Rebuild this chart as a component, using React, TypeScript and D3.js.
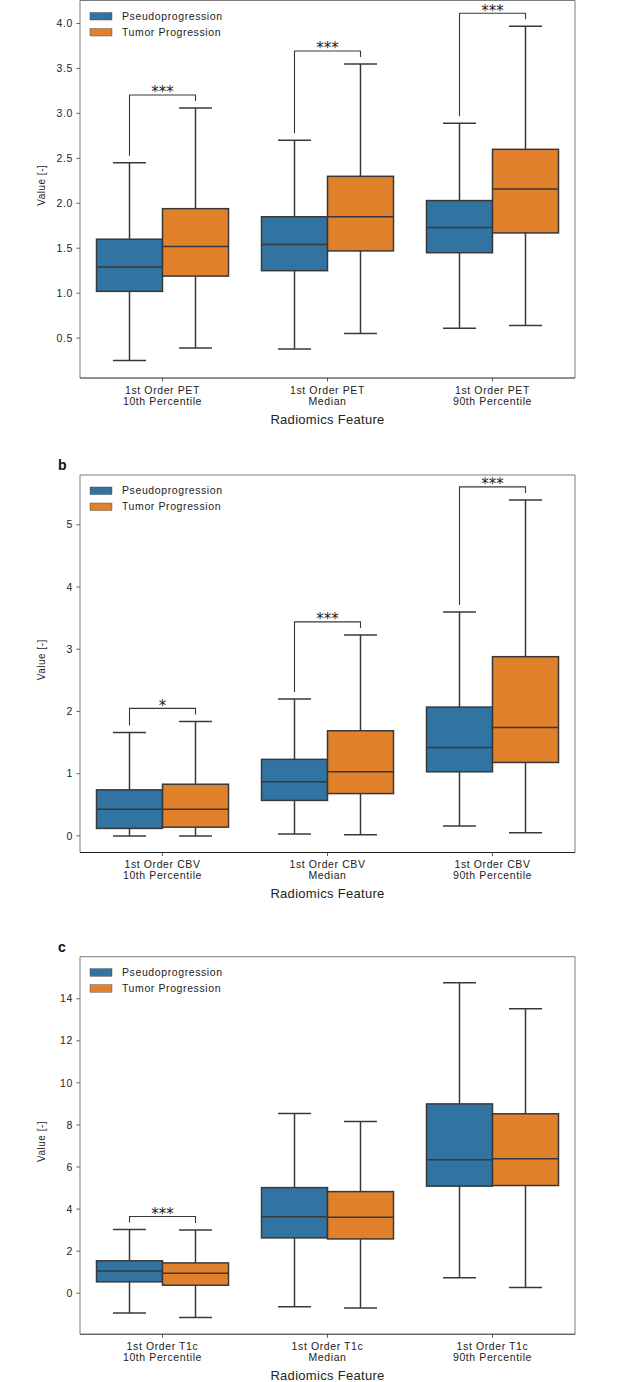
import { scaleBand, scaleLinear, range as d3Range, format } from 'd3'

// three stacked box-plot panels (PET / CBV / T1c radiomics), seaborn-like look

const GROUPS = ['Pseudoprogression', 'Tumor Progression']
const COLORS = ['#3274a1', '#e1812c']

// box stats: [lower whisker, q1, median, q3, upper whisker]
const petCats = ['1st Order PET\n10th Percentile', '1st Order PET\nMedian', '1st Order PET\n90th Percentile']
const petPseudo = [
  [0.25, 1.02, 1.29, 1.6, 2.45],
  [0.38, 1.25, 1.54, 1.85, 2.7],
  [0.61, 1.45, 1.73, 2.03, 2.89],
]
const petTumor = [
  [0.39, 1.19, 1.52, 1.94, 3.06],
  [0.55, 1.47, 1.85, 2.3, 3.55],
  [0.64, 1.67, 2.16, 2.6, 3.97],
]
const petSig = ['***', '***', '***']
const petTicks = d3Range(0.5, 4.01, 0.5)

const cbvCats = ['1st Order CBV\n10th Percentile', '1st Order CBV\nMedian', '1st Order CBV\n90th Percentile']
const cbvPseudo = [
  [0.0, 0.12, 0.43, 0.74, 1.66],
  [0.03, 0.57, 0.87, 1.23, 2.2],
  [0.16, 1.03, 1.42, 2.07, 3.6],
]
const cbvTumor = [
  [0.0, 0.14, 0.43, 0.83, 1.84],
  [0.02, 0.68, 1.03, 1.69, 3.23],
  [0.05, 1.18, 1.74, 2.88, 5.4],
]
const cbvSig = ['*', '***', '***']
const cbvTicks = [0, 1, 2, 3, 4, 5]

const t1cCats = ['1st Order T1c\n10th Percentile', '1st Order T1c\nMedian', '1st Order T1c\n90th Percentile']
const t1cPseudo = [
  [-0.94, 0.54, 1.06, 1.54, 3.03],
  [-0.65, 2.63, 3.63, 5.02, 8.54],
  [0.73, 5.09, 6.34, 9.0, 14.76],
]
const t1cTumor = [
  [-1.16, 0.38, 0.95, 1.44, 3.01],
  [-0.7, 2.58, 3.61, 4.83, 8.16],
  [0.27, 5.12, 6.39, 8.53, 13.52],
]
const t1cSig = ['***', '', '']
const t1cTicks = [0, 2, 4, 6, 8, 10, 12, 14]

const FONT = '"Liberation Sans", Arial, sans-serif'
const EDGE = '#383838'
const X0 = 80
const X1 = 575
const PLOT_H = 377.5

interface PanelProps {
  top: number
  label?: string
  cats: string[]
  series: number[][][]
  sig: string[]
  domain: [number, number]
  ticks: number[]
  fmt: (v: number) => string
}

function Panel({ top, label, cats, series, sig, domain, ticks, fmt }: PanelProps) {
  const bottom = top + PLOT_H
  const y = scaleLinear().domain(domain).range([bottom, top])
  const x = scaleBand().domain(cats).range([X0, X1])
  const inner = scaleBand<number>()
    .domain(GROUPS.map((_, i) => i))
    .range([0, x.bandwidth() * 0.8])
  const off = x.bandwidth() * 0.1
  const bw = inner.bandwidth()

  return (
    <g fontFamily={FONT}>
      {label && (
        <text x={58} y={top - 5} fontSize={14} fontWeight="bold" fill="#111">
          {label}
        </text>
      )}
      {/* y ticks */}
      {ticks.map((t) => (
        <g key={t}>
          <line x1={X0 - 3.5} x2={X0} y1={y(t)} y2={y(t)} stroke="#333" strokeWidth={0.8} />
          <text x={X0 - 7} y={y(t)} dy="0.35em" textAnchor="end" fontSize={10.5} letterSpacing={0.6} fill="#222">
            {fmt(t)}
          </text>
        </g>
      ))}
      <text
        transform={`translate(45, ${(top + bottom) / 2 - 4}) rotate(-90)`}
        textAnchor="middle"
        fontSize={10}
        letterSpacing={0.5}
        fill="#222"
      >
        Value [-]
      </text>

      {/* boxes */}
      {cats.map((c, ci) => {
        const bx = (x(c) ?? 0) + off
        return series.map((s, gi) => {
          const [lo, q1, med, q3, hi] = s[ci]
          const left = bx + (inner(gi) ?? 0)
          const cx = left + bw / 2
          return (
            <g key={`${ci}-${gi}`} stroke={EDGE} strokeWidth={1.5}>
              <line x1={cx} x2={cx} y1={y(hi)} y2={y(q3)} />
              <line x1={cx} x2={cx} y1={y(q1)} y2={y(lo)} />
              <line x1={cx - bw / 4} x2={cx + bw / 4} y1={y(hi)} y2={y(hi)} />
              <line x1={cx - bw / 4} x2={cx + bw / 4} y1={y(lo)} y2={y(lo)} />
              <rect x={left} y={y(q3)} width={bw} height={y(q1) - y(q3)} fill={COLORS[gi]} />
              <line x1={left} x2={left + bw} y1={y(med)} y2={y(med)} />
            </g>
          )
        })
      })}

      {/* significance brackets */}
      {cats.map((c, ci) => {
        if (!sig[ci]) return null
        const bx = (x(c) ?? 0) + off
        const xa = bx + (inner(0) ?? 0) + bw / 2
        const xb = bx + (inner(1) ?? 0) + bw / 2
        const ya = y(series[0][ci][4]) - 7
        const yb = y(series[1][ci][4]) - 7
        const yt = Math.min(ya, yb) - 6
        return (
          <g key={`sig-${ci}`}>
            <path d={`M${xa},${ya}V${yt}H${xb}V${yb}`} fill="none" stroke={EDGE} strokeWidth={1.1} />
            <text
              x={(xa + xb) / 2}
              y={yt + 2.5}
              textAnchor="middle"
              fontFamily='"DejaVu Sans", sans-serif'
              fontSize={15}
              fill="#222"
            >
              {sig[ci]}
            </text>
          </g>
        )
      })}

      {/* legend */}
      {GROUPS.map((g, gi) => (
        <g key={g} transform={`translate(90, ${top + 12 + gi * 16})`}>
          <rect x={0} y={0} width={22} height={7.5} fill={COLORS[gi]} stroke={EDGE} strokeWidth={0.4} />
          <text x={32} y={3.8} dy="0.35em" fontSize={10.5} letterSpacing={0.6} fill="#222">
            {g}
          </text>
        </g>
      ))}

      {/* frame */}
      <path d={`M${X0},${bottom}V${top}H${X1}V${bottom}`} fill="none" stroke="#7a7a7a" strokeWidth={1} />
      <line x1={X0} x2={X1} y1={bottom} y2={bottom} stroke="#222" strokeWidth={1} />

      {/* x ticks and labels */}
      {cats.map((c) => {
        const cx = (x(c) ?? 0) + x.bandwidth() / 2
        return (
          <g key={c}>
            <line x1={cx} x2={cx} y1={bottom} y2={bottom + 3.5} stroke="#333" strokeWidth={0.8} />
            {c.split('\n').map((ln, li) => (
              <text
                key={li}
                x={cx}
                y={bottom + 12 + li * 11}
                dy="0.35em"
                textAnchor="middle"
                fontSize={10.5}
                letterSpacing={0.6}
                fill="#222"
              >
                {ln}
              </text>
            ))}
          </g>
        )
      })}
      <text x={(X0 + X1) / 2} y={bottom + 41} dy="0.35em" textAnchor="middle" fontSize={13} letterSpacing={0.3} fill="#222">
        Radiomics Feature
      </text>
    </g>
  )
}

export default function App() {
  const f1 = format('.1f')
  const f0 = format('d')
  return (
    <svg
      width={638}
      height={1382}
      viewBox="0 0 638 1382"
      style={{ position: 'absolute', left: 0, top: 0, background: '#fff' }}
    >
      <rect width={638} height={1382} fill="#fff" />
      <Panel
        top={0.5}
        cats={petCats}
        series={[petPseudo, petTumor]}
        sig={petSig}
        domain={[0.056, 4.256]}
        ticks={petTicks}
        fmt={f1}
      />
      <Panel
        top={475}
        label="b"
        cats={cbvCats}
        series={[cbvPseudo, cbvTumor]}
        sig={cbvSig}
        domain={[-0.267, 5.8]}
        ticks={cbvTicks}
        fmt={f0}
      />
      <Panel
        top={956.7}
        label="c"
        cats={t1cCats}
        series={[t1cPseudo, t1cTumor]}
        sig={t1cSig}
        domain={[-1.95, 16.0]}
        ticks={t1cTicks}
        fmt={f0}
      />
    </svg>
  )
}
